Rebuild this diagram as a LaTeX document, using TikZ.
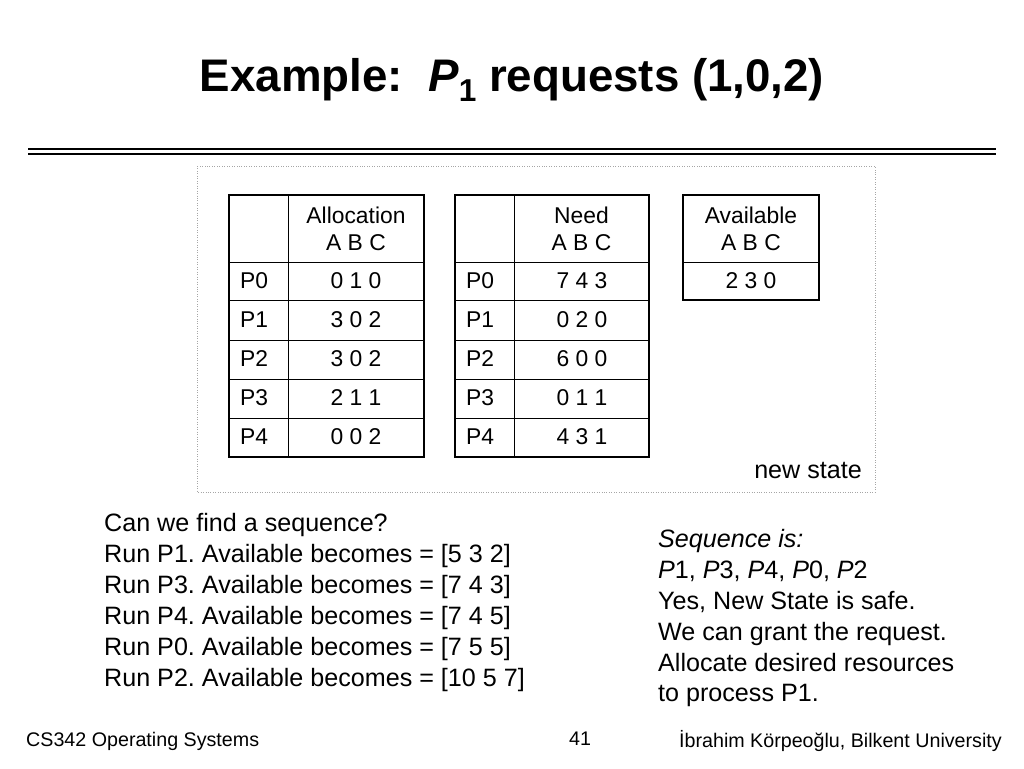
\documentclass[tikz,border=0pt]{standalone}
\usepackage{fontspec}
\setmainfont{Liberation Sans}
\frenchspacing
\begin{document}
\begin{tikzpicture}[x=0.02cm,y=-0.02cm,
	cell/.style={font=\fontsize{13}{15.5}\selectfont, align=center},
	body/.style={font=\fontsize{14.3}{17}\selectfont, anchor=west},
	foot/.style={font=\fontsize{11.2}{13}\selectfont}]
	\useasboundingbox (0,0) rectangle (1024,768);
	% title
	\node[font=\bfseries\fontsize{26}{30}\selectfont] (title) at (512,80) {Example:\ \ \textit{P}\raisebox{-0.45ex}{\fontsize{18}{20}\selectfont 1} requests (1,0,2)};
	\draw[line width=1.6pt] (28,149) -- (996,149);
	\draw[line width=0.6pt] (28,154) -- (996,154);
	% frame
	\draw[gray!70, densely dotted] (197,166) rectangle (875,492);
	% tables
	\foreach \x/\m/\r/\h in {229/288/424/Allocation, 455/514/649/Need} {
		\draw[very thick] (\x,195) rectangle (\r,457);
		\draw (\m,195) -- (\m,457);
		\foreach \y in {262,300,340,379,418} \draw (\x,\y) -- (\r,\y);
		\node[cell] at ({(\m+\r)/2},229) {\h\\A B C};
		\foreach \p/\y in {0/281,1/320,2/359,3/398,4/437}
			\node[cell, anchor=west] at (\x+5,\y) {P\p};
	}
	\draw[very thick] (683,195) rectangle (819,300);
	\draw (683,262) -- (819,262);
	\node[cell] (avh) at (751,229) {Available\\A B C};
	\node[cell] (avv) at (751,281) {2 3 0};
	\foreach \v/\y in {0 1 0/281,3 0 2/320,3 0 2/359,2 1 1/398,0 0 2/437}
		\node[cell] at (356,\y) {\v};
	\foreach \v/\y in {7 4 3/281,0 2 0/320,6 0 0/359,0 1 1/398,4 3 1/437}
		\node[cell] at (582,\y) {\v};
	\node[body, anchor=east] (state) at (868,470) {new state};
	% sequence text
	\foreach \t [count=\i from 0] in {Can we find a sequence?,
		{Run P1. Available becomes = [5 3 2]},
		{Run P3. Available becomes = [7 4 3]},
		{Run P4. Available becomes = [7 4 5]},
		{Run P0. Available becomes = [7 5 5]},
		{Run P2. Available becomes = [10 5 7]}}
		\node[body] at (98,526+31*\i) {\strut\t};
	\foreach \t [count=\i from 0] in {\textit{Sequence is:},
		{\textit{P}1, \textit{P}3, \textit{P}4, \textit{P}0, \textit{P}2},
		{Yes, New State is safe.},
		{We can grant the request.},
		{Allocate desired resources},
		{to process P1.}}
		\node[body] at (652,542+30.8*\i) {\strut\t};
	% footer
	\node[foot, anchor=west] (course) at (20,741) {CS342 Operating Systems};
	\node[foot] (page) at (580,739) {41};
	\node[foot, anchor=east] (author) at (1008,741) {İbrahim Körpeoğlu, Bilkent University};
\end{tikzpicture}
\end{document}
